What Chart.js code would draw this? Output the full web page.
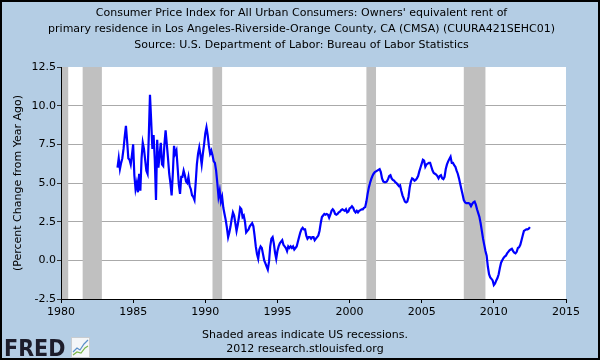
<!DOCTYPE html>
<html><head><meta charset="utf-8">
<script src="https://cdn.jsdelivr.net/npm/chart.js@4.4.1/dist/chart.umd.min.js"></script>
<style>html,body{margin:0;padding:0;background:#b4cde4;}canvas{display:block;}</style>
</head><body>
<canvas id="c" width="600" height="360" style="width:600px;height:360px"></canvas>
<script>
// ---- text ----
const titleLines = [
  "Consumer Price Index for All Urban Consumers: Owners' equivalent rent of",
  "primary residence in Los Angeles-Riverside-Orange County, CA (CMSA) (CUURA421SEHC01)",
  "Source: U.S. Department of Labor: Bureau of Labor Statistics"
];
const yAxisTitle = "(Percent Change from Year Ago)";
const footnoteLines = ["Shaded areas indicate US recessions.", "2012 research.stlouisfed.org"];
const logoText = "FRED";

// ---- axes ----
const xTickYears = [1980, 1985, 1990, 1995, 2000, 2005, 2010, 2015];
const yTickValues = [-2.5, 0, 2.5, 5, 7.5, 10, 12.5];

// ---- recessions (decimal years) ----
const recessionStart = [1980.0, 1981.5, 1990.5, 2001 + 2/12, 2007 + 11/12];
const recessionEnd   = [1980.5, 1982 + 10/12, 1991 + 2/12, 2001 + 10/12, 2009 + 5/12];

// ---- series: monthly % change from year ago, first value = Dec 1983 ----
const firstYear = 1983, firstMonth = 12;
const values1980s = [
  6.0,
  6.6, 5.9, 6.3, 6.6, 7.2, 8.0, 8.7, 7.7, 6.6, 6.5, 6.2, 6.8,
  7.5, 5.5, 4.6, 5.0, 4.4, 5.6, 4.5, 6.6, 7.6, 7.2, 6.5, 5.8,
  5.6, 8.0, 10.7, 9.0, 7.2, 8.1, 6.5, 3.9, 7.8, 6.0, 6.8, 7.6,
  6.2, 6.1, 7.5, 8.4, 7.5, 6.6, 5.6, 5.0, 4.2, 5.6, 7.4, 6.9,
  7.1, 6.0, 4.9, 4.3, 5.4, 5.4, 5.8, 5.5, 5.1, 5.0, 5.4, 4.8,
  4.6, 4.2, 4.1, 3.9, 5.0, 6.2, 6.9, 7.3, 6.8, 6.2, 6.9, 7.5
];
const values1990s = [
  8.2, 8.6, 8.1, 7.4, 6.9, 7.1, 6.8, 6.4, 6.3, 5.8, 5.0, 4.1,
  4.5, 3.8, 4.1, 3.4, 3.0, 2.6, 2.1, 1.5, 1.8, 2.2, 2.7, 3.1,
  2.9, 2.4, 1.9, 2.3, 2.8, 3.4, 3.3, 2.8, 2.9, 2.5, 1.8, 1.9,
  2.0, 2.2, 2.3, 2.4, 2.2, 1.6, 0.9, 0.4, 0.1, 0.7, 0.9, 0.8,
  0.4, 0.0, -0.2, -0.4, -0.6, -0.1, 0.9, 1.4, 1.5, 1.1, 0.5, 0.1,
  0.6, 0.9, 1.1, 1.2, 1.3, 1.0, 0.9, 0.8, 0.6, 0.9, 0.8, 0.9,
  0.8, 0.9, 0.7, 0.8, 0.9, 1.2, 1.5, 1.8, 2.0, 2.1, 2.0, 2.0,
  1.6, 1.4, 1.5, 1.5, 1.4, 1.5, 1.5, 1.3, 1.4, 1.5, 1.6, 1.9,
  2.4, 2.8, 2.9, 3.0, 2.95, 3.0, 2.95, 2.75, 2.95, 3.2, 3.3, 3.2,
  3.0, 2.95, 3.0, 3.1, 3.15, 3.25, 3.3, 3.25, 3.2, 3.3, 3.1, 3.15
];
const values2000s = [
  3.35, 3.4, 3.5, 3.4, 3.2, 3.1, 3.2, 3.1, 3.2, 3.25, 3.3, 3.3,
  3.4, 3.45, 3.8, 4.3, 4.7, 5.0, 5.25, 5.45, 5.6, 5.7, 5.75, 5.8,
  5.85, 5.9, 5.7, 5.3, 5.1, 5.05, 5.05, 5.1, 5.25, 5.45, 5.5, 5.3,
  5.2, 5.15, 5.05, 5.0, 4.9, 4.8, 4.85, 4.5, 4.2, 4.0, 3.8, 3.75,
  3.8, 4.1, 4.7, 5.1, 5.3, 5.25, 5.15, 5.2, 5.3, 5.45, 5.75, 6.0,
  6.25, 6.5, 6.45, 6.05, 6.2, 6.25, 6.3, 6.3, 6.05, 5.8, 5.65, 5.6,
  5.55, 5.45, 5.3, 5.45, 5.5, 5.3, 5.25, 5.4, 5.9, 6.2, 6.4, 6.55,
  6.7, 6.3, 6.3, 6.15, 6.05, 5.8, 5.6, 5.3, 4.95, 4.6, 4.25, 3.9,
  3.75, 3.7, 3.7, 3.7, 3.65, 3.5, 3.65, 3.75, 3.8, 3.6, 3.3, 3.05,
  2.8, 2.4, 1.9, 1.4, 1.0, 0.6, 0.3, -0.4, -0.9, -1.1, -1.2, -1.3
];
const values2010s = [
  -1.6, -1.5, -1.3, -1.15, -0.9, -0.5, -0.15, 0.0, 0.15, 0.25, 0.3, 0.45,
  0.55, 0.65, 0.7, 0.75, 0.6, 0.5, 0.45, 0.55, 0.8, 0.85, 1.0, 1.3,
  1.6, 1.9, 1.95, 2.0, 2.0, 2.05, 2.15
];

const allValues = values1980s.concat(values1990s, values2000s, values2010s);
const points = allValues.map((v, i) => ({ x: firstYear + (firstMonth - 1 + i) / 12, y: v }));

const FONT = "'DejaVu Sans', Verdana, sans-serif";
const BG = '#b4cde4';

const framePlugin = {
  id: 'frame',
  beforeDraw(chart) {
    const { ctx, chartArea: a } = chart;
    ctx.save();
    ctx.fillStyle = BG;
    ctx.fillRect(0, 0, chart.width, chart.height);
    ctx.fillStyle = '#ffffff';
    ctx.fillRect(a.left, a.top, a.right - a.left, a.bottom - a.top);
    ctx.restore();
  },
  beforeDatasetsDraw(chart) {
    const { ctx, chartArea: a, scales: { x } } = chart;
    ctx.save();
    ctx.fillStyle = '#c0c0c0';
    for (let i = 0; i < recessionStart.length; i++) {
      const x0 = Math.max(x.getPixelForValue(recessionStart[i]), a.left + 1);
      const x1 = Math.min(x.getPixelForValue(recessionEnd[i]), a.right);
      ctx.fillRect(x0, a.top, x1 - x0, a.bottom - a.top);
    }
    ctx.restore();
  },
  afterDraw(chart) {
    const { ctx } = chart;
    ctx.save();
    ctx.fillStyle = '#000';
    ctx.textAlign = 'center';
    ctx.textBaseline = 'middle';
    ctx.font = '11px ' + FONT;
    titleLines.forEach((t, i) => ctx.fillText(t, 301.5, 13.5 + i * 16));
    footnoteLines.forEach((t, i) => ctx.fillText(t, 305, 335 + i * 14.5));
    // FRED logo
    ctx.textAlign = 'left';
    ctx.textBaseline = 'alphabetic';
    ctx.font = "bold 23px 'Liberation Sans Narrow', 'DejaVu Sans Condensed', sans-serif";
    ctx.fillStyle = '#1d1d2b';
    ctx.fillText(logoText, 4, 356);
    // small graph icon
    ctx.fillStyle = '#f4f6f8';
    ctx.fillRect(71, 337, 19, 21);
    ctx.strokeStyle = '#c8ccd0';
    ctx.lineWidth = 1;
    ctx.strokeRect(71.5, 337.5, 18, 20);
    ctx.lineWidth = 1.2;
    ctx.strokeStyle = '#5a8fc8';
    ctx.beginPath(); ctx.moveTo(73, 352); ctx.lineTo(77, 348); ctx.lineTo(80, 350); ctx.lineTo(84, 344); ctx.lineTo(88, 340); ctx.stroke();
    ctx.strokeStyle = '#7ab648';
    ctx.beginPath(); ctx.moveTo(73, 355); ctx.lineTo(77, 352); ctx.lineTo(81, 353); ctx.lineTo(85, 348); ctx.lineTo(88, 346); ctx.stroke();
    // outer border
    ctx.strokeStyle = '#000';
    ctx.lineWidth = 2;
    ctx.strokeRect(1, 1, chart.width - 2, chart.height - 2);
    ctx.restore();
  }
};

new Chart(document.getElementById('c'), {
  type: 'line',
  data: {
    datasets: [{
      data: points,
      borderColor: '#0000ff',
      borderWidth: 2.2,
      pointRadius: 0,
      tension: 0,
      fill: false
    }]
  },
  options: {
    responsive: false,
    animation: false,
    devicePixelRatio: 1,
    layout: { padding: { left: 0, right: 34, top: 67, bottom: 0 } },
    plugins: { legend: { display: false }, tooltip: { enabled: false }, title: { display: false } },
    scales: {
      x: {
        type: 'linear',
        min: xTickYears[0],
        max: xTickYears[xTickYears.length - 1],
        afterBuildTicks: s => { s.ticks = xTickYears.map(v => ({ value: v })); },
        ticks: { callback: v => String(v), color: '#000', font: { family: FONT, size: 11 }, padding: 3, maxRotation: 0, autoSkip: false },
        grid: { drawOnChartArea: false, drawTicks: true, tickLength: 4, tickColor: '#000' },
        border: { display: true, color: '#000', width: 1 },
        afterFit: s => { s.height = 61; }
      },
      y: {
        min: yTickValues[0],
        max: yTickValues[yTickValues.length - 1],
        afterBuildTicks: s => { s.ticks = yTickValues.map(v => ({ value: v })); },
        ticks: { callback: v => v.toFixed(1), color: '#000', font: { family: FONT, size: 11 }, padding: 1 },
        grid: {
          color: c => (c.tick && (c.tick.value === yTickValues[0] || c.tick.value === yTickValues[yTickValues.length - 1])) ? 'rgba(0,0,0,0)' : '#aaaaaa',
          tickColor: '#333', tickLength: 4, lineWidth: 1
        },
        border: { display: true, color: '#000', width: 1 },
        title: { display: true, text: yAxisTitle, color: '#000', font: { family: FONT, size: 11 }, padding: { top: 12, bottom: 0 } },
        afterFit: s => { s.width = 61; }
      }
    }
  },
  plugins: [framePlugin]
});
</script>
</body></html>
